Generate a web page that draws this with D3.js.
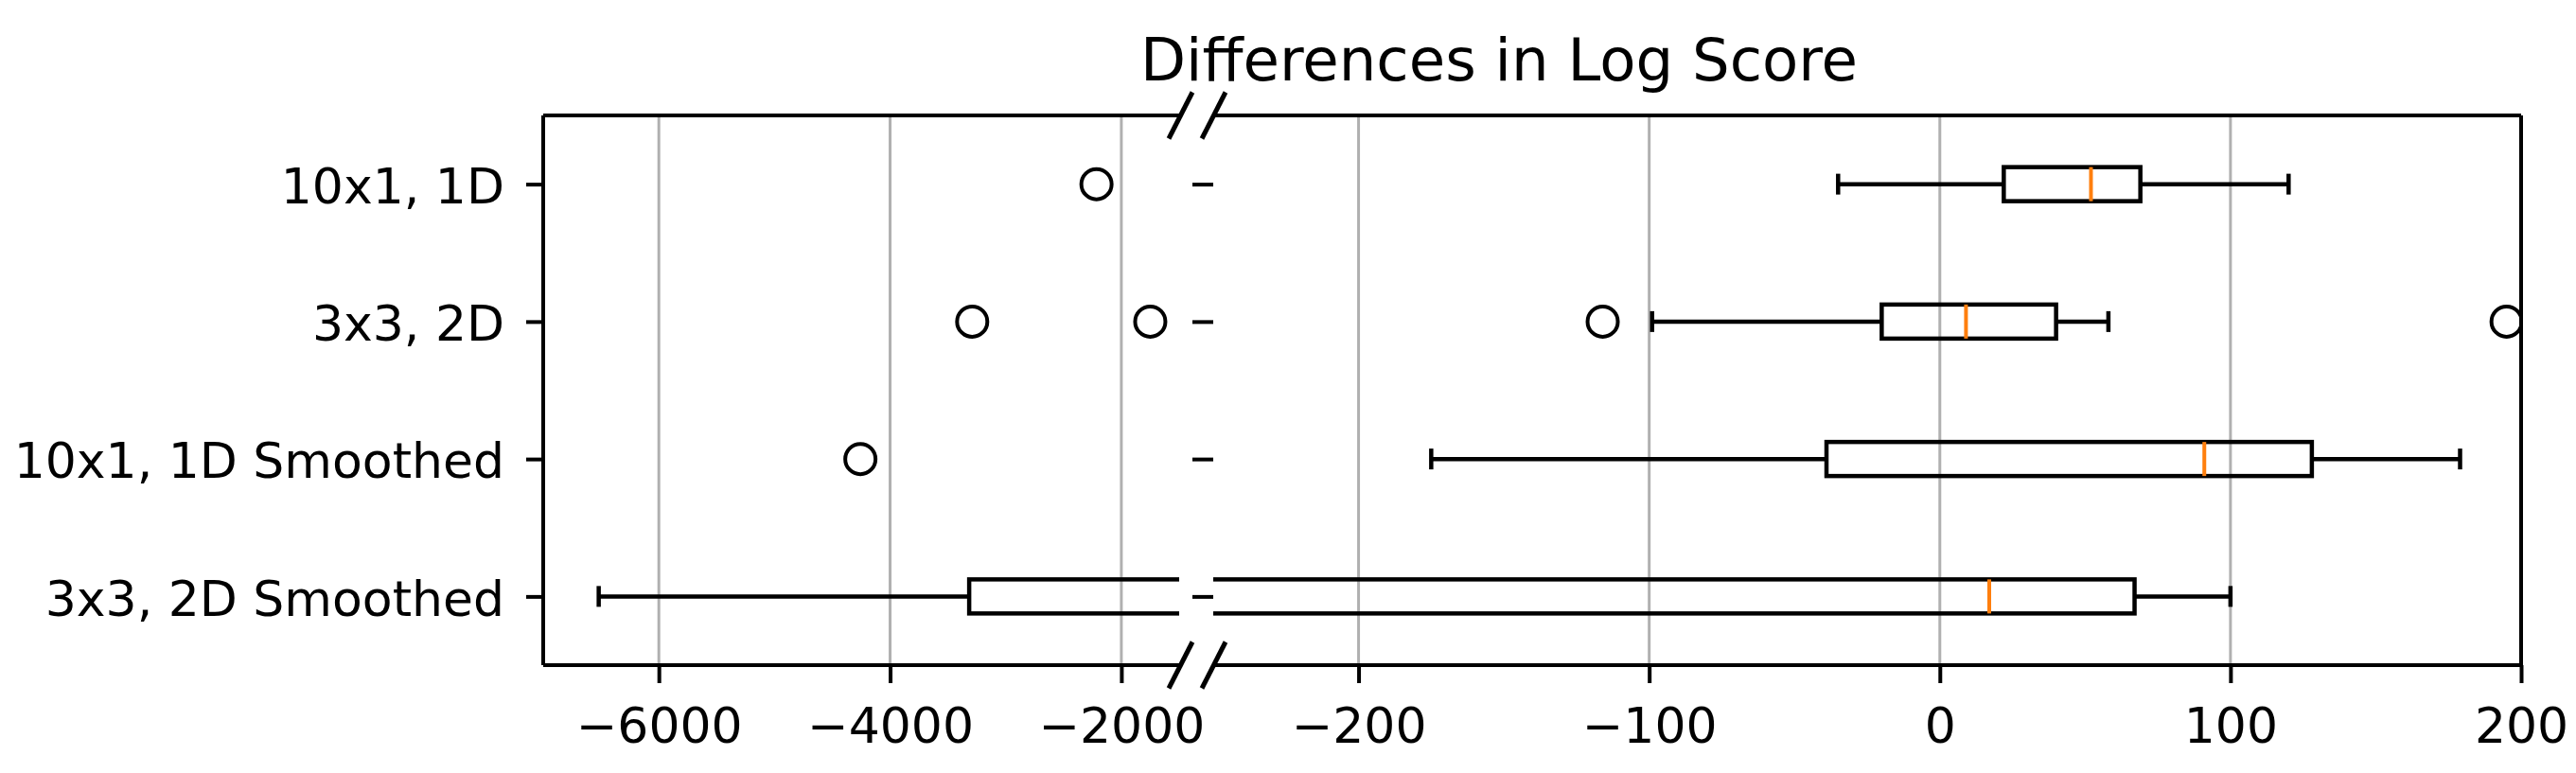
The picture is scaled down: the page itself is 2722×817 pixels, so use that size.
<!DOCTYPE html>
<html lang="en">
<head>
<meta charset="UTF-8">
<title>Differences in Log Score</title>
<style>
  body { margin: 0; background: #fff; }
  svg { display: block; font-family: "DejaVu Sans", sans-serif; }
</style>
</head>
<body>
<script src="https://cdn.jsdelivr.net/npm/d3@7"></script>
<div id="chart"></div>
<script>
// box plot stats (top row first)
var categories = ["10x1, 1D", "3x3, 2D", "10x1, 1D Smoothed", "3x3, 2D Smoothed"]
var positions = [4, 3, 2, 1]
var whiskerLow = [-35, -99, -175, -6520]
var q1 = [22, -20, -39, -3316]
var medians = [52, 9, 91, 17]
var q3 = [69, 40, 128, 67]
var whiskerHigh = [120, 58, 179, 100]
var outliers = [[-2215], [-3290, -1750, -116, 195], [-4257], []]
var leftTicks = [-6000, -4000, -2000]
var rightTicks = [-200, -100, 0, 100, 200]

var width = 2722, height = 817
var plotTop = 122, plotBottom = 703
var boxHalf = 18, capHalf = 11

var svg = d3.select("#chart").append("svg")
  .attr("width", width)
  .attr("height", height)

var y = d3.scaleLinear().domain([0.5, 4.5]).range([plotBottom, plotTop])
var xLeft = d3.scaleLinear().domain([-7000, -1500]).range([574, 1246])
var xRight = d3.scaleLinear().domain([-250, 200]).range([1282, 2664])

var panels = [
  {id: "left", x: xLeft, ticks: leftTicks},
  {id: "right", x: xRight, ticks: rightTicks}
]

panels.forEach(function(p) {
  var r = p.x.range()
  svg.append("clipPath").attr("id", "clip-" + p.id)
    .append("rect")
    .attr("x", r[0]).attr("y", plotTop)
    .attr("width", r[1] - r[0]).attr("height", plotBottom - plotTop)

  var g = svg.append("g").attr("clip-path", "url(#clip-" + p.id + ")")

  // grid
  g.selectAll(".grid").data(p.ticks).enter().append("line")
    .attr("x1", function(d) { return p.x(d) })
    .attr("x2", function(d) { return p.x(d) })
    .attr("y1", plotTop).attr("y2", plotBottom)
    .attr("stroke", "#b0b0b0")
    .attr("stroke-width", 3)

  categories.forEach(function(c, i) {
    var yc = y(positions[i])
    var line = function(x1, x2, y1, y2, col, w) {
      g.append("line")
        .attr("x1", x1).attr("x2", x2).attr("y1", y1).attr("y2", y2)
        .attr("stroke", col || "black")
        .attr("stroke-width", w || 4.5)
    }
    // whiskers + caps
    line(p.x(whiskerLow[i]), p.x(q1[i]), yc, yc)
    line(p.x(q3[i]), p.x(whiskerHigh[i]), yc, yc)
    line(p.x(whiskerLow[i]), p.x(whiskerLow[i]), yc - capHalf, yc + capHalf)
    line(p.x(whiskerHigh[i]), p.x(whiskerHigh[i]), yc - capHalf, yc + capHalf)
    // box
    g.append("rect")
      .attr("x", p.x(q1[i]))
      .attr("y", yc - boxHalf)
      .attr("width", p.x(q3[i]) - p.x(q1[i]))
      .attr("height", boxHalf * 2)
      .attr("fill", "none")
      .attr("stroke", "black")
      .attr("stroke-width", 4.5)
    // median
    line(p.x(medians[i]), p.x(medians[i]), yc - boxHalf, yc + boxHalf, "#ff7f0e", 4)
    // fliers
    g.selectAll(".flier" + i).data(outliers[i]).enter().append("circle")
      .attr("cx", function(d) { return p.x(d) })
      .attr("cy", yc)
      .attr("r", 16)
      .attr("fill", "none")
      .attr("stroke", "black")
      .attr("stroke-width", 4)
  })

  // x axis
  var xa = svg.append("g")
    .attr("transform", "translate(0," + plotBottom + ")")
    .call(d3.axisBottom(p.x).tickValues(p.ticks).tickSize(19).tickPadding(26)
      .tickFormat(d3.format("d")))
  xa.select(".domain").remove()
  xa.selectAll("line").attr("stroke-width", 4)
  xa.selectAll("text").attr("font-size", 52).attr("fill", "black")
    .attr("font-family", "DejaVu Sans")

  // spines
  svg.append("line").attr("x1", r[0]).attr("x2", r[1]).attr("y1", plotTop).attr("y2", plotTop)
    .attr("stroke", "black").attr("stroke-width", 4)
  svg.append("line").attr("x1", r[0]).attr("x2", r[1]).attr("y1", plotBottom).attr("y2", plotBottom)
    .attr("stroke", "black").attr("stroke-width", 4)
})

// left spine + category labels
var ya = svg.append("g")
  .attr("transform", "translate(" + xLeft.range()[0] + ",0)")
  .call(d3.axisLeft(y).tickValues(positions).tickSize(18).tickPadding(23)
    .tickFormat(function(d) { return categories[positions.indexOf(d)] }))
ya.select(".domain").remove()
ya.selectAll("line").attr("stroke-width", 4)
ya.selectAll("text").attr("font-size", 52).attr("fill", "black")
  .attr("font-family", "DejaVu Sans").attr("dy", "0.38em")
svg.append("line").attr("x1", xLeft.range()[0]).attr("x2", xLeft.range()[0])
  .attr("y1", plotTop).attr("y2", plotBottom)
  .attr("stroke", "black").attr("stroke-width", 4)

// right panel ticks in the gap
var yb = svg.append("g")
  .attr("transform", "translate(" + xRight.range()[0] + ",0)")
  .call(d3.axisLeft(y).tickValues(positions).tickSize(22).tickFormat(""))
yb.select(".domain").remove()
yb.selectAll("line").attr("stroke-width", 4)

// right spine
svg.append("line").attr("x1", xRight.range()[1]).attr("x2", xRight.range()[1])
  .attr("y1", plotTop).attr("y2", plotBottom)
  .attr("stroke", "black").attr("stroke-width", 4)

// break marks
var breakX = [xLeft.range()[1] + 1.5, xRight.range()[0] + 0.5]
breakX.forEach(function(bx) {
  [plotTop, plotBottom].forEach(function(by) {
    svg.append("line")
      .attr("x1", bx - 12.5).attr("y1", by + 24.5)
      .attr("x2", bx + 12.5).attr("y2", by - 24.5)
      .attr("stroke", "black").attr("stroke-width", 5)
  })
})

svg.append("text")
  .attr("x", 1584).attr("y", 85)
  .attr("text-anchor", "middle")
  .attr("font-size", 62.5)
  .text("Differences in Log Score")
</script>
</body>
</html>
